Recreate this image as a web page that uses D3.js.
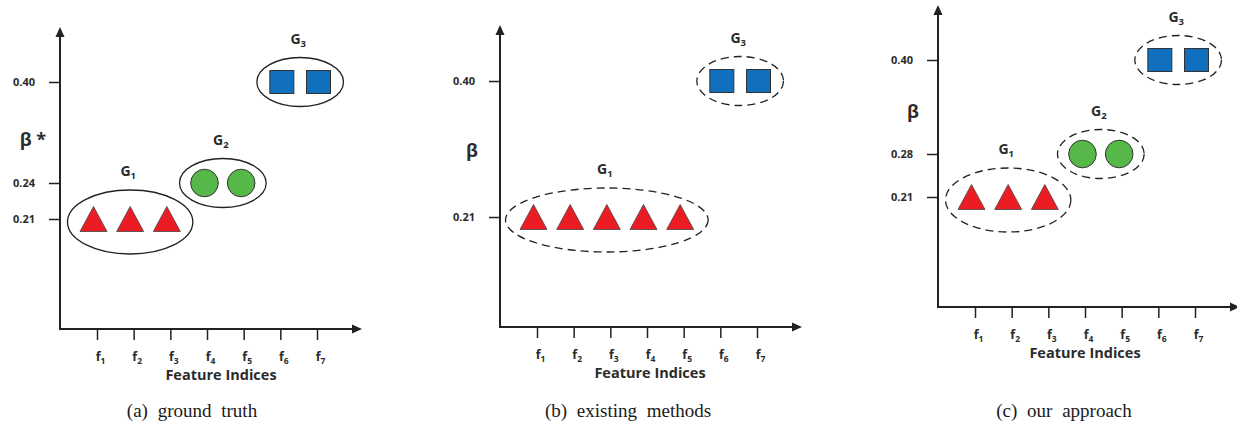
<!DOCTYPE html>
<html>
<head>
<meta charset="utf-8">
<script src="https://cdn.jsdelivr.net/npm/d3@7"></script>
<style>
body{margin:0;background:#fff}
text{font-family:"Open Sans",sans-serif}
</style>
</head>
<body>
<svg id="chart" width="1237" height="423"></svg>
<script>
// dati
const features = ["f1", "f2", "f3", "f4", "f5", "f6", "f7"]
const truthBeta = [0.21, 0.21, 0.21, 0.24, 0.24, 0.40, 0.40]
const truthGroup = [1, 1, 1, 2, 2, 3, 3]
const existingBeta = [0.21, 0.21, 0.21, 0.21, 0.21, 0.40, 0.40]
const existingGroup = [1, 1, 1, 1, 1, 3, 3]
const oursBeta = [0.21, 0.21, 0.21, 0.28, 0.28, 0.40, 0.40]
const oursGroup = [1, 1, 1, 2, 2, 3, 3]
const truthTicks = [0.21, 0.24, 0.40]
const existingTicks = [0.21, 0.40]
const oursTicks = [0.21, 0.28, 0.40]
const yTitles = ["β *", "β", "β"]
const captions = ["(a) ground truth", "(b) existing methods", "(c) our approach"]
const xTitle = "Feature Indices"

const svg = d3.select('#chart')
const testo = "#2b2b2b"
const colori = {1: "#ec1c24", 2: "#55b848", 3: "#1170bd"}

// impaginazione dei tre pannelli (origine degli assi, asse y schematico)
const pannelli = [
    {beta: truthBeta, group: truthGroup, ticks: truthTicks, alt: [110, 146, 247], ox: 60, oy: 329, dashed: false, titleX: 161, yTitleX: -27, yTitleY: 189, capX: 132},
    {beta: existingBeta, group: existingGroup, ticks: existingTicks, alt: [110, 246], ox: 500, oy: 327, dashed: true, titleX: 150, yTitleX: -28, yTitleY: 176, capX: 128},
    {beta: oursBeta, group: oursGroup, ticks: oursTicks, alt: [110, 153, 247], ox: 938, oy: 307, dashed: true, titleX: 147, yTitleX: -25, yTitleY: 195, capX: 126}
]

pannelli.forEach((p, k) => {
    const g = svg.append("g")
    const x = d3.scalePoint().domain(features).range([p.ox + 37, p.ox + 257])
    const y = d3.scaleLinear()
        .domain([0].concat(p.ticks))
        .range([p.oy].concat(p.alt.map(a => p.oy - a)))

    // assi con freccia
    g.append("line").attr("x1", p.ox).attr("y1", p.oy).attr("x2", p.ox).attr("y2", p.oy - 292)
        .attr("stroke", "#222").attr("stroke-width", 2)
    g.append("path").attr("d", `M${p.ox - 4.5},${p.oy - 292} L${p.ox},${p.oy - 302} L${p.ox + 4.5},${p.oy - 292} Z`).attr("fill", "#222")
    g.append("line").attr("x1", p.ox - 1).attr("y1", p.oy).attr("x2", p.ox + 292).attr("y2", p.oy)
        .attr("stroke", "#222").attr("stroke-width", 2)
    g.append("path").attr("d", `M${p.ox + 292},${p.oy - 4.5} L${p.ox + 302},${p.oy} L${p.ox + 292},${p.oy + 4.5} Z`).attr("fill", "#222")

    const ax = g.append("g").attr("transform", `translate(0,${p.oy})`)
        .call(d3.axisBottom(x).tickSize(11).tickSizeOuter(0).tickPadding(12))
    ax.select(".domain").remove()
    ax.selectAll("line").attr("stroke", "#222").attr("stroke-width", 1.5)
    ax.selectAll("text")
        .attr("fill", testo).attr("font-weight", "bold").attr("font-size", 12.5)
        .attr("dx", 3)
        .html(d => `${d[0]}<tspan font-size="8.5" dy="3">${d.slice(1)}</tspan>`)

    const ay = g.append("g").attr("transform", `translate(${p.ox},0)`)
        .call(d3.axisLeft(y).tickValues(p.ticks).tickSize(11).tickPadding(14).tickFormat(d3.format(".2f")))
    ay.select(".domain").remove()
    ay.selectAll("line").attr("stroke", "#222").attr("stroke-width", 1.5)
    ay.selectAll("text").attr("fill", testo).attr("font-weight", "bold").attr("font-size", 11)

    // titoli
    g.append("text").attr("x", p.ox + p.titleX).attr("y", p.oy + 51)
        .attr("text-anchor", "middle").attr("font-weight", "bold").attr("font-size", 14.5)
        .attr("fill", testo).text(xTitle)
    g.append("text").attr("x", p.ox + p.yTitleX).attr("y", p.oy - p.yTitleY + 6)
        .attr("text-anchor", "middle").attr("font-weight", "bold").attr("font-size", 18)
        .attr("fill", testo).text(yTitles[k])
    g.append("text").attr("x", p.ox + p.capX).attr("y", 417)
        .attr("text-anchor", "middle").attr("font-size", 19).attr("word-spacing", 5)
        .style("font-family", "'Liberation Serif', serif")
        .attr("fill", "#1a1a1a").text(captions[k])

    // punti
    const punti = features.map((f, i) => ({f: f, beta: p.beta[i], group: p.group[i]}))
    const shift = {1: -3.5, 2: -2.5, 3: 1.5}
    punti.forEach(d => { d.px = x(d.f) + shift[d.group]; d.py = y(d.beta) })

    // ellissi dei gruppi
    const gruppi = d3.groups(punti, d => d.group)
    gruppi.forEach(([gr, membri]) => {
        const [x0, x1] = d3.extent(membri, d => d.px)
        const cx = (x0 + x1) / 2
        const rx = (x1 - x0) / 2 + 23 + membri.length
        const cy = membri[0].py + (gr == 1 ? 3 : 0)
        const ry = gr == 1 ? 32 : 24.5
        g.append("ellipse").attr("cx", cx).attr("cy", cy).attr("rx", rx).attr("ry", ry)
            .attr("fill", "none").attr("stroke", "#222").attr("stroke-width", 1.3)
            .attr("stroke-dasharray", p.dashed ? "8,5" : null)
        g.append("text").attr("x", cx - 2).attr("y", cy - ry - 14)
            .attr("text-anchor", "middle").attr("font-weight", "bold").attr("font-size", 14)
            .attr("fill", testo)
            .html(`G<tspan font-size="9.5" dy="3">${gr}</tspan>`)
    })

    punti.forEach(d => {
        if (d.group == 1) {
            g.append("path")
                .attr("d", `M${d.px},${d.py - 12.5} L${d.px + 13.5},${d.py + 12.5} L${d.px - 13.5},${d.py + 12.5} Z`)
                .attr("fill", colori[1]).attr("stroke", "#444").attr("stroke-width", 0.8)
        } else if (d.group == 2) {
            g.append("circle").attr("cx", d.px).attr("cy", d.py).attr("r", 13.8)
                .attr("fill", colori[2]).attr("stroke", "#333").attr("stroke-width", 1)
        } else {
            g.append("rect").attr("x", d.px - 12).attr("y", d.py - 11.5).attr("width", 24).attr("height", 23)
                .attr("fill", colori[3]).attr("stroke", "#333").attr("stroke-width", 1)
        }
    })
})
</script>
</body>
</html>
